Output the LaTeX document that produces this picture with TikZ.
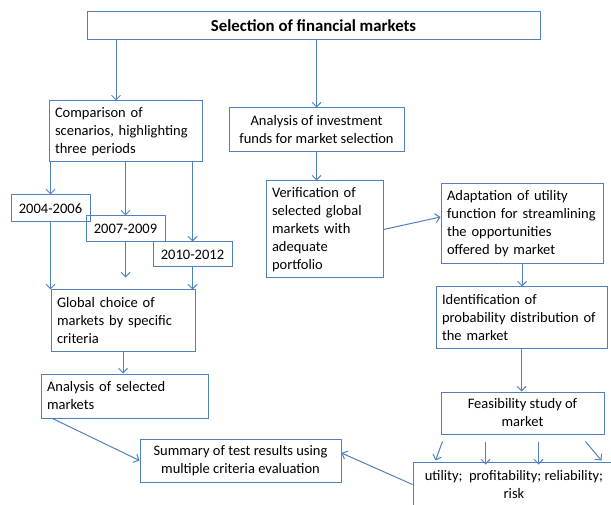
\documentclass[tikz,border=0pt]{standalone}
\usepackage{fontspec}
\setmainfont{Carlito}
\usetikzlibrary{arrows,arrows.meta,calc}
\definecolor{lineblue}{RGB}{79,129,189}

\begin{document}
\begin{tikzpicture}[x=1pt,y=-1pt,font=\fontsize{14.5}{18}\selectfont,
    >={Straight Barb[length=4.5pt,width=9pt]},
    box/.style={draw=lineblue,line width=1pt,inner xsep=6pt,inner ysep=0pt},
    lbox/.style={box,align=left},
    cbox/.style={box,align=center},
    arr/.style={->,draw=lineblue,line width=1pt}]
\useasboundingbox (0,0) rectangle (611,505);
\clip (0,0) rectangle (611,505);

\node [cbox,minimum width=453pt,minimum height=28pt,font=\fontsize{16.8}{20}\selectfont\bfseries] (sel) at (313.5,26) {Selection of financial markets};
\node [lbox,text width=141pt,minimum height=61pt] (comp) at (125.5,131.5) {Comparison of\\ scenarios, highlighting\\ three periods};
\node [cbox,minimum width=175pt,minimum height=44pt] (inv) at (316.5,130) {Analysis of investment\\ funds for market selection};
\node [cbox,minimum width=79pt,minimum height=27pt] (p1) at (50.5,208.5) {2004-2006};
\node [cbox,minimum width=79pt,minimum height=26pt] (p2) at (125.5,229) {2007-2009};
\node [cbox,minimum width=79pt,minimum height=25pt] (p3) at (192.5,254.5) {2010-2012};
\node [lbox,text width=132pt,minimum height=62pt] (glob) at (123,321) {Global choice of\\ markets by specific\\ criteria};
\node [lbox,text width=155pt,minimum height=44pt] (anl) at (124.5,396) {Analysis of selected\\ markets};
\node [cbox,minimum width=201pt,minimum height=43pt] (sum) at (240.5,460.5) {Summary of test results using\\ multiple criteria evaluation};
\node [lbox,text width=105pt,minimum height=97pt] (ver) at (324.5,229.5) {Verification of\\ selected global\\ markets with\\ adequate\\ portfolio};
\node [lbox,text width=150pt,minimum height=80pt] (adp) at (522,224) {Adaptation of utility\\ function for streamlining\\ the opportunities\\ offered by market};
\node [lbox,text width=159pt,minimum height=62pt] (idf) at (521.5,318) {Identification of\\ probability distribution of\\ the market};
\node [cbox,minimum width=163pt,minimum height=42pt] (feas) at (522.5,413) {Feasibility study of\\ market};
\node [cbox,minimum width=202pt,minimum height=45pt] (crit) at (514,484.5) {utility;\ \ profitability; reliability;\\ risk};

% left branch
\draw[arr] ([xshift=-9.5pt]comp.north |- sel.south) -- ([xshift=-9.5pt]comp.north);
\draw[arr] (p1.north |- comp.south) -- (p1.north);
\draw[arr] (p2.north |- comp.south) -- (p2.north);
\draw[arr] (p3.north |- comp.south) -- (p3.north);
\draw[arr] (p1.south) -- (p1.south |- glob.north);
\draw[arr,shorten >=12pt] (p2.south) -- (p2.south |- glob.north);
\draw[arr] (p3.south) -- (p3.south |- glob.north);
\draw[arr] (glob.south) -- (glob.south |- anl.north);
\draw[arr] ([xshift=12pt]anl.south west) -- (sum.west);
% right branch
\draw[arr] (inv.north |- sel.south) -- (inv.north);
\draw[arr] (inv.south) -- (inv.south |- ver.north);
\draw[arr] (ver.east) -- ([yshift=7pt]adp.west);
\draw[arr] (adp.south) -- (adp.south |- idf.north);
\draw[arr] (idf.south) -- (idf.south |- feas.north);
\draw[arr] ([shift={(2pt,-7pt)}]feas.south west) -- ([shift={(23pt,1pt)}]crit.north west);
\draw[arr,shorten >=4pt] ([shift={(45pt,-7pt)}]feas.south west) -- ([shift={(45pt,-7pt)}]feas.south west |- crit.north);
\draw[arr,shorten >=4pt] ([shift={(98pt,-7pt)}]feas.south west) -- ([shift={(98pt,-7pt)}]feas.south west |- crit.north);
\draw[arr] ([shift={(145pt,-7pt)}]feas.south west) -- ([shift={(189pt,1pt)}]crit.north west);
\draw[arr] (crit.west) -- ([yshift=7.5pt]sum.east);
\end{tikzpicture}
\end{document}
